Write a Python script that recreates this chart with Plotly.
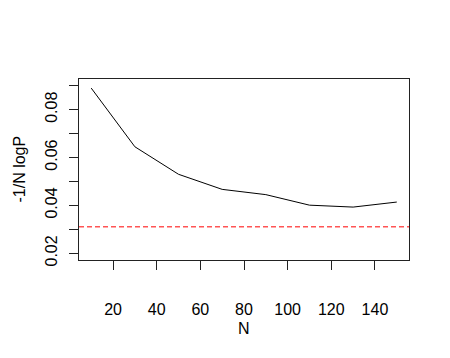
import plotly.graph_objects as go

# values
n_vals = [10, 30, 50, 70, 90, 110, 130, 150]
score = [0.0890, 0.0645, 0.0530, 0.0467, 0.0445, 0.0401, 0.0393, 0.0414]
ref_level = 0.0311

x_ticks = [20, 40, 60, 80, 100, 120, 140]
y_ticks = [0.02, 0.03, 0.04, 0.05, 0.06, 0.07, 0.08, 0.09]
y_ticktext = ["0.02", "", "0.04", "", "0.06", "", "0.08", ""]

font = dict(family="Liberation Sans, Arial, sans-serif", size=16, color="black")

fig = go.Figure()

# the curve
fig.add_trace(go.Scatter(x=n_vals, y=score, mode="lines",
                         line=dict(color="black", width=1), showlegend=False))

# dashed reference line across the whole box
fig.add_hline(y=ref_level, line=dict(color="#ff5555", width=1.6, dash="5px,3px"))

axis_common = dict(showline=True, linecolor="#222", linewidth=1, mirror=True,
                   ticks="outside", ticklen=9, tickcolor="#222", tickwidth=1,
                   showgrid=False, zeroline=False, tickfont=font)

fig.update_xaxes(range=[4.4, 155.6], tickvals=x_ticks, ticklabelstandoff=26, **axis_common)
fig.update_yaxes(range=[0.0172, 0.0928], tickvals=y_ticks, ticktext=y_ticktext,
                 tickangle=-90, ticklabelstandoff=6, **axis_common)

# axis titles placed like R's mtext at line 3
fig.add_annotation(text="N", xref="paper", yref="paper", x=0.5, y=0,
                   xanchor="center", yanchor="middle",
                   yshift=-68, showarrow=False, font=font)
fig.add_annotation(text="-1/N logP", xref="paper", yref="paper", x=0, y=0.5,
                   xanchor="center", yanchor="middle",
                   xshift=-60, textangle=-90, showarrow=False, font=font)

# the page body has an 8px margin, so the figure is shrunk by that much
fig.update_layout(width=442, height=350,
                  margin=dict(l=71, r=41, t=71, b=98),
                  plot_bgcolor="white", paper_bgcolor="white")

fig.write_html("out.html")
